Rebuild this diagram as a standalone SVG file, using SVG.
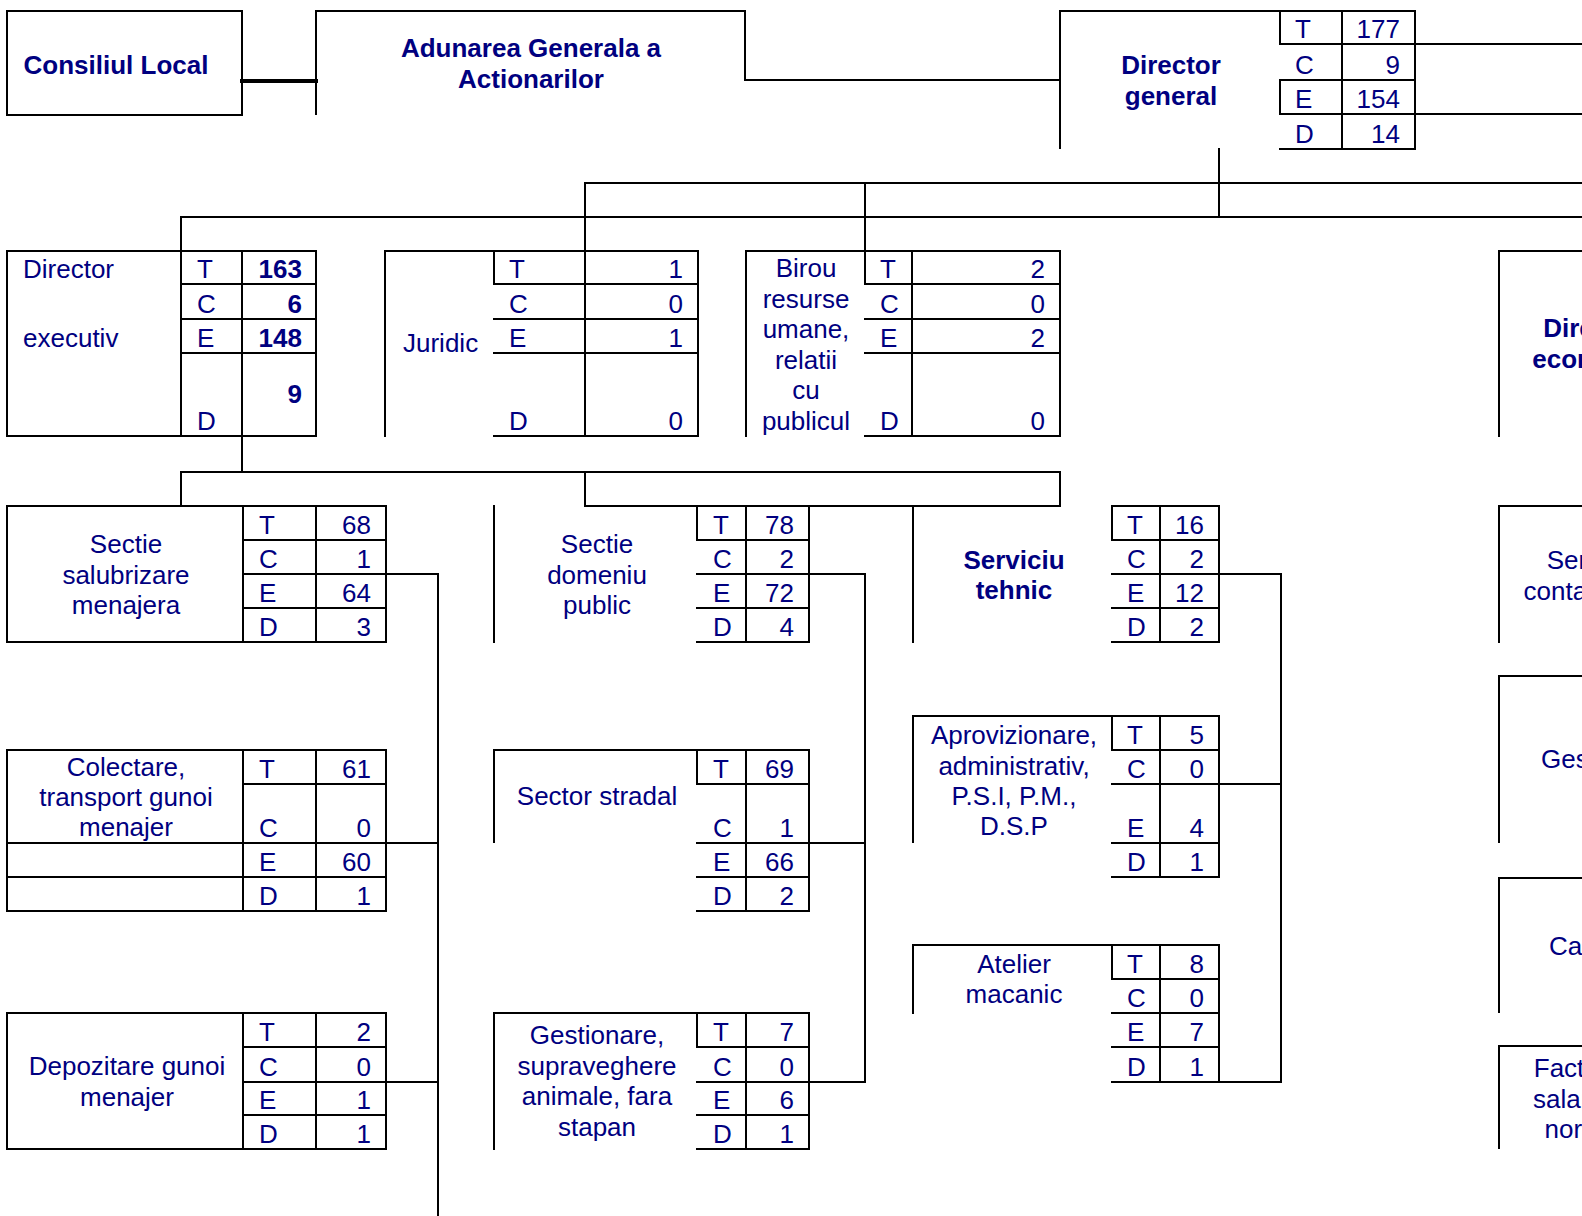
<svg xmlns="http://www.w3.org/2000/svg" width="1582" height="1216" viewBox="0 0 1582 1216">
<style>
.ln{fill:none;stroke:#000;stroke-width:2;stroke-linecap:square}
.tx{font-family:"Liberation Sans",Arial,sans-serif;font-size:26px;fill:#000080}
.b{font-weight:bold}
.m{text-anchor:middle}
.e{text-anchor:end}
</style>
<rect width="1582" height="1216" fill="#fff"/>
<g id="connectors" class="ln">
<path d="M242 81H316" stroke-width="4"/>
<path d="M745 80H1060"/>
<path d="M1219 149V217"/>
<path d="M585 183H1582"/>
<path d="M181 217H1582"/>
<path d="M585 183V251"/>
<path d="M181 217V251"/>
<path d="M865 183V251"/>
<path d="M1415 44H1582"/>
<path d="M1415 114H1582"/>
<path d="M242 436V472"/>
<path d="M181 472H1060"/>
<path d="M181 472V506"/>
<path d="M585 472V506H1060V472"/>
<path d="M386 574H438V1216"/>
<path d="M386 843H438"/>
<path d="M386 1082H438"/>
<path d="M809 574H865V1082H809"/>
<path d="M809 843H865"/>
<path d="M1219 574H1281V1082H1219"/>
<path d="M1219 784H1281"/>
</g>
<g id="consiliul-local">
<rect class="ln" x="7" y="11" width="235" height="104"/>
<text class="tx b m" x="116" y="74">Consiliul Local</text>
</g>
<g id="adunarea-generala">
<path class="ln" d="M316 114V11H745V80"/>
<text class="tx b m" x="531" y="57">Adunarea Generala a</text>
<text class="tx b m" x="531" y="88">Actionarilor</text>
</g>
<g id="director-general">
<path class="ln" d="M1060 148V11H1415V149M1280 11V44M1280 80V114M1342 11V149M1280 44H1415M1280 80H1415M1280 114H1415M1280 149H1415"/>
<text class="tx b m" x="1171" y="74">Director</text>
<text class="tx b m" x="1171" y="105">general</text>
<text class="tx" x="1295" y="38">T</text><text class="tx" x="1295" y="74">C</text><text class="tx" x="1295" y="108">E</text><text class="tx" x="1295" y="143">D</text>
<text class="tx e" x="1400" y="38">177</text><text class="tx e" x="1400" y="74">9</text><text class="tx e" x="1400" y="108">154</text><text class="tx e" x="1400" y="143">14</text>
</g>
<g id="director-executiv">
<path class="ln" d="M7 251H316V436H7ZM181 251V436M242 251V436M181 284H316M181 319H316M181 353H316"/>
<text class="tx" x="23" y="278">Director</text>
<text class="tx" x="23" y="347">executiv</text>
<text class="tx" x="197" y="278">T</text><text class="tx" x="197" y="313">C</text><text class="tx" x="197" y="347">E</text><text class="tx" x="197" y="430">D</text>
<text class="tx b e" x="302" y="278">163</text><text class="tx b e" x="302" y="313">6</text><text class="tx b e" x="302" y="347">148</text><text class="tx b e" x="302" y="403">9</text>
</g>
<g id="juridic">
<path class="ln" d="M385 436V251H698V436M494 251V284M585 251V436M494 284H698M494 319H698M494 353H698M494 436H698"/>
<text class="tx" x="403" y="352">Juridic</text>
<text class="tx" x="509" y="278">T</text><text class="tx" x="509" y="313">C</text><text class="tx" x="509" y="347">E</text><text class="tx" x="509" y="430">D</text>
<text class="tx e" x="683" y="278">1</text><text class="tx e" x="683" y="313">0</text><text class="tx e" x="683" y="347">1</text><text class="tx e" x="683" y="430">0</text>
</g>
<g id="birou-resurse-umane">
<path class="ln" d="M746 436V251H1060V436M865 251V284M912 251V436M865 284H1060M865 319H1060M865 353H1060M865 436H1060"/>
<text class="tx m" x="806" y="277">Birou</text>
<text class="tx m" x="806" y="308">resurse</text>
<text class="tx m" x="806" y="338">umane,</text>
<text class="tx m" x="806" y="369">relatii</text>
<text class="tx m" x="806" y="399">cu</text>
<text class="tx m" x="806" y="430">publicul</text>
<text class="tx" x="880" y="278">T</text><text class="tx" x="880" y="313">C</text><text class="tx" x="880" y="347">E</text><text class="tx" x="880" y="430">D</text>
<text class="tx e" x="1045" y="278">2</text><text class="tx e" x="1045" y="313">0</text><text class="tx e" x="1045" y="347">2</text><text class="tx e" x="1045" y="430">0</text>
</g>
<g id="director-economic">
<path class="ln" d="M1499 436V251H1582"/>
<text class="tx b m" x="1593" y="337">Director</text>
<text class="tx b m" x="1593" y="368">economic</text>
</g>
<g id="sectie-salubrizare">
<path class="ln" d="M7 506H386V642H7ZM243 506V642M316 506V642M243 540H386M243 574H386M243 608H386"/>
<text class="tx m" x="126" y="553">Sectie</text>
<text class="tx m" x="126" y="584">salubrizare</text>
<text class="tx m" x="126" y="614">menajera</text>
<text class="tx" x="259" y="534">T</text><text class="tx" x="259" y="568">C</text><text class="tx" x="259" y="602">E</text><text class="tx" x="259" y="636">D</text>
<text class="tx e" x="371" y="534">68</text><text class="tx e" x="371" y="568">1</text><text class="tx e" x="371" y="602">64</text><text class="tx e" x="371" y="636">3</text>
</g>
<g id="sectie-domeniu-public">
<path class="ln" d="M494 506V642M697 506V540M697 540H809M697 574H809M697 608H809M697 642H809M746 506V642M809 506V642"/>
<text class="tx m" x="597" y="553">Sectie</text>
<text class="tx m" x="597" y="584">domeniu</text>
<text class="tx m" x="597" y="614">public</text>
<text class="tx" x="713" y="534">T</text><text class="tx" x="713" y="568">C</text><text class="tx" x="713" y="602">E</text><text class="tx" x="713" y="636">D</text>
<text class="tx e" x="794" y="534">78</text><text class="tx e" x="794" y="568">2</text><text class="tx e" x="794" y="602">72</text><text class="tx e" x="794" y="636">4</text>
</g>
<g id="serviciu-tehnic">
<path class="ln" d="M913 506V642M1112 506H1219M1112 506V540M1112 540H1219M1112 574H1219M1112 608H1219M1112 642H1219M1160 506V642M1219 506V642"/>
<text class="tx b m" x="1014" y="569">Serviciu</text>
<text class="tx b m" x="1014" y="599">tehnic</text>
<text class="tx" x="1127" y="534">T</text><text class="tx" x="1127" y="568">C</text><text class="tx" x="1127" y="602">E</text><text class="tx" x="1127" y="636">D</text>
<text class="tx e" x="1204" y="534">16</text><text class="tx e" x="1204" y="568">2</text><text class="tx e" x="1204" y="602">12</text><text class="tx e" x="1204" y="636">2</text>
</g>
<g id="serviciu-contabilitate">
<path class="ln" d="M1499 642V506H1582"/>
<text class="tx m" x="1593" y="569">Serviciu</text>
<text class="tx m" x="1593" y="600">contabilitate</text>
</g>
<g id="colectare-transport">
<path class="ln" d="M7 750H386V911H7ZM243 750V911M316 750V911M243 784H386M7 843H386M7 877H386"/>
<text class="tx m" x="126" y="776">Colectare,</text>
<text class="tx m" x="126" y="806">transport gunoi</text>
<text class="tx m" x="126" y="836">menajer</text>
<text class="tx" x="259" y="778">T</text><text class="tx" x="259" y="837">C</text><text class="tx" x="259" y="871">E</text><text class="tx" x="259" y="905">D</text>
<text class="tx e" x="371" y="778">61</text><text class="tx e" x="371" y="837">0</text><text class="tx e" x="371" y="871">60</text><text class="tx e" x="371" y="905">1</text>
</g>
<g id="sector-stradal">
<path class="ln" d="M494 842V750H809V911M697 750V784M697 784H809M697 843H809M697 877H809M697 911H809M746 750V911"/>
<text class="tx m" x="597" y="805">Sector stradal</text>
<text class="tx" x="713" y="778">T</text><text class="tx" x="713" y="837">C</text><text class="tx" x="713" y="871">E</text><text class="tx" x="713" y="905">D</text>
<text class="tx e" x="794" y="778">69</text><text class="tx e" x="794" y="837">1</text><text class="tx e" x="794" y="871">66</text><text class="tx e" x="794" y="905">2</text>
</g>
<g id="aprovizionare">
<path class="ln" d="M913 842V716H1219V877M1112 716V750M1112 750H1219M1112 784H1219M1112 843H1219M1112 877H1219M1160 716V877"/>
<text class="tx m" x="1014" y="744">Aprovizionare,</text>
<text class="tx m" x="1014" y="775">administrativ,</text>
<text class="tx m" x="1014" y="805">P.S.I, P.M.,</text>
<text class="tx m" x="1014" y="835">D.S.P</text>
<text class="tx" x="1127" y="744">T</text><text class="tx" x="1127" y="778">C</text><text class="tx" x="1127" y="837">E</text><text class="tx" x="1127" y="871">D</text>
<text class="tx e" x="1204" y="744">5</text><text class="tx e" x="1204" y="778">0</text><text class="tx e" x="1204" y="837">4</text><text class="tx e" x="1204" y="871">1</text>
</g>
<g id="gestiune">
<path class="ln" d="M1499 842V676H1582"/>
<text class="tx m" x="1593" y="768">Gestiune</text>
</g>
<g id="depozitare">
<path class="ln" d="M7 1013H386V1149H7ZM243 1013V1149M316 1013V1149M243 1047H386M243 1082H386M243 1115H386"/>
<text class="tx m" x="127" y="1075">Depozitare gunoi</text>
<text class="tx m" x="127" y="1106">menajer</text>
<text class="tx" x="259" y="1041">T</text><text class="tx" x="259" y="1076">C</text><text class="tx" x="259" y="1109">E</text><text class="tx" x="259" y="1143">D</text>
<text class="tx e" x="371" y="1041">2</text><text class="tx e" x="371" y="1076">0</text><text class="tx e" x="371" y="1109">1</text><text class="tx e" x="371" y="1143">1</text>
</g>
<g id="gestionare-animale">
<path class="ln" d="M494 1149V1013H809V1149M697 1013V1047M697 1047H809M697 1082H809M697 1115H809M697 1149H809M746 1013V1149"/>
<text class="tx m" x="597" y="1044">Gestionare,</text>
<text class="tx m" x="597" y="1075">supraveghere</text>
<text class="tx m" x="597" y="1105">animale, fara</text>
<text class="tx m" x="597" y="1136">stapan</text>
<text class="tx" x="713" y="1041">T</text><text class="tx" x="713" y="1076">C</text><text class="tx" x="713" y="1109">E</text><text class="tx" x="713" y="1143">D</text>
<text class="tx e" x="794" y="1041">7</text><text class="tx e" x="794" y="1076">0</text><text class="tx e" x="794" y="1109">6</text><text class="tx e" x="794" y="1143">1</text>
</g>
<g id="atelier-macanic">
<path class="ln" d="M913 1013V945H1219V1082M1112 945V979M1112 979H1219M1112 1013H1219M1112 1047H1219M1112 1082H1219M1160 945V1082"/>
<text class="tx m" x="1014" y="973">Atelier</text>
<text class="tx m" x="1014" y="1003">macanic</text>
<text class="tx" x="1127" y="973">T</text><text class="tx" x="1127" y="1007">C</text><text class="tx" x="1127" y="1041">E</text><text class="tx" x="1127" y="1076">D</text>
<text class="tx e" x="1204" y="973">8</text><text class="tx e" x="1204" y="1007">0</text><text class="tx e" x="1204" y="1041">7</text><text class="tx e" x="1204" y="1076">1</text>
</g>
<g id="casierie">
<path class="ln" d="M1499 1012V878H1582"/>
<text class="tx" x="1549" y="955">Casierie</text>
</g>
<g id="facturare-salarizare">
<path class="ln" d="M1499 1148V1046H1582"/>
<text class="tx m" x="1593" y="1077">Facturare,</text>
<text class="tx m" x="1593" y="1108">salarizare,</text>
<text class="tx m" x="1593" y="1138">normare</text>
</g>
</svg>
